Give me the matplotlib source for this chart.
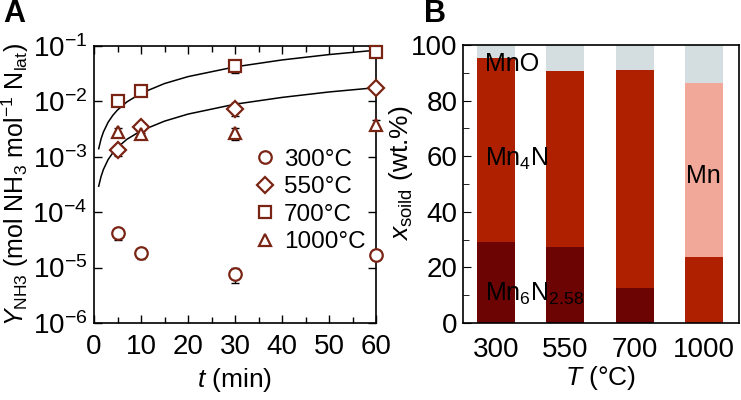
import matplotlib
matplotlib.use('Agg')
import matplotlib.pyplot as plt
from matplotlib.ticker import MultipleLocator, LogLocator, NullLocator
import numpy as np

plt.rcParams['font.family'] = ['Liberation Sans', 'DejaVu Sans']
plt.rcParams['mathtext.fontset'] = 'custom'
plt.rcParams['mathtext.rm'] = 'Liberation Sans'
plt.rcParams['mathtext.it'] = 'Liberation Sans:italic'
plt.rcParams['mathtext.bf'] = 'Liberation Sans:bold'
plt.rcParams['axes.linewidth'] = 1.2

# ---- panel A data: NH3 yield vs time
t_min = [5, 10, 30, 60]
y_300 = [4.2e-5, 1.85e-5, 7.6e-6, 1.7e-5]
y_550 = [1.3e-3, 3.4e-3, 7.4e-3, 1.75e-2]
y_700 = [1.02e-2, 1.55e-2, 4.4e-2, 7.9e-2]
y_1000 = [2.8e-3, 2.6e-3, 2.7e-3, 3.8e-3]
err_300 = [0.25, 0.22, 0.3, 0.2]      # relative errors
err_550 = [0.2, 0.2, 0.25, 0.15]
err_700 = [0.2, 0.2, 0.25, 0.1]
err_1000 = [0.2, 0.2, 0.25, 0.2]
labels_a = ['300\u00b0C', '550\u00b0C', '700\u00b0C', '1000\u00b0C']
markers_a = ['o', 'D', 's', '^']

# fit lines
fit_t = [1, 1.5, 2, 3, 4, 5, 7, 10, 15, 20, 30, 40, 50, 60]
fit_hi = [0.0014, 0.0021, 0.0028, 0.0042, 0.0056, 0.0070, 0.0098, 0.014,
          0.021, 0.028, 0.042, 0.056, 0.070, 0.084]
fit_lo = [0.000295, 0.00044, 0.00059, 0.00089, 0.00118, 0.00148, 0.00207,
          0.00295, 0.0044, 0.0059, 0.0089, 0.0118, 0.0148, 0.0177]

# ---- panel B data: solid composition (wt.%)
temps = ['300', '550', '700', '1000']
mn6n = [29.1, 27.4, 12.5, 0]
mn4n = [66.1, 63.1, 78.4, 23.6]
mn = [0, 0, 0, 62.6]
mno = [4.8, 9.5, 9.1, 13.8]

mk_col = '#7a2414'
c_mn6n = '#6b0403'
c_mn4n = '#ae2000'
c_mn = '#f2a898'
c_mno = '#d4dee0'

fig = plt.figure(figsize=(7.41, 4.0), dpi=100)
axA = fig.add_axes([94/741, 1-323/400, (376-94)/741, (323-46)/400])
axB = fig.add_axes([463/741, 1-323/400, (739-463)/741, (323-45)/400])

# panel A
axA.plot(fit_t, fit_hi, color='black', lw=1.1)
axA.plot(fit_t, fit_lo, color='black', lw=1.1)
for ys, es, m, lab in zip([y_300, y_550, y_700, y_1000],
                          [err_300, err_550, err_700, err_1000], markers_a, labels_a):
    ys = np.array(ys)
    es = np.array(es)
    axA.errorbar(t_min, ys, yerr=[ys*es, ys*es], fmt='none', ecolor='black',
                 elinewidth=1.0, capsize=3, clip_on=False, zorder=3)
    ms = 8 if m == 'D' else 9
    axA.plot(t_min, ys, m, mfc='white', mec=mk_col, mew=1.6, ms=ms,
             label=lab, clip_on=False, zorder=4)

axA.set_yscale('log')
axA.set_ylim(1e-6, 1e-1)
axA.set_xlim(0, 60)
axA.xaxis.set_major_locator(MultipleLocator(10))
axA.xaxis.set_minor_locator(MultipleLocator(5))
axA.yaxis.set_major_locator(LogLocator(base=10, numticks=10))
axA.yaxis.set_minor_locator(NullLocator())
axA.tick_params(which='both', direction='in', top=True, right=True, labelsize=20)
axA.tick_params(which='major', length=6, width=1.0)
axA.tick_params(which='minor', length=4, width=1.0)
axA.tick_params(axis='x', pad=8)
axA.tick_params(axis='y', pad=5)
axA.set_xlabel('$t$ (min)', fontsize=19, labelpad=4)
axA.set_ylabel('$Y_{\\mathrm{NH3}}$ (mol NH$_3$ mol$^{-1}$ N$_{\\mathrm{lat}}$)',
               fontsize=18, labelpad=1)
leg = axA.legend(loc='lower right', bbox_to_anchor=(1.015, 0.20), frameon=False,
                 fontsize=17.5, handlelength=0.8, handletextpad=0.4,
                 labelspacing=0.22, borderaxespad=0.2)

# panel B
x = np.arange(len(temps))
w = 0.55
axB.bar(x, mn6n, w, color=c_mn6n)
axB.bar(x, mn4n, w, bottom=mn6n, color=c_mn4n)
b2 = np.array(mn6n) + np.array(mn4n)
axB.bar(x, mn, w, bottom=b2, color=c_mn)
b3 = b2 + np.array(mn)
axB.bar(x, mno, w, bottom=b3, color=c_mno)

axB.text(-0.16, 93.2, 'MnO', fontsize=18, va='center', ha='left')
axB.text(-0.16, 59.2, 'Mn$_4$N', fontsize=18, va='center', ha='left')
axB.text(-0.16, 10.5, 'Mn$_6$N$_{2.58}$', fontsize=18, va='center', ha='left')
axB.text(3.0, 53.0, 'Mn', fontsize=18, va='center', ha='center')

axB.set_xlim(-0.48, 3.51)
axB.set_ylim(0, 100)
axB.set_xticks(x)
axB.set_xticklabels(temps)
axB.yaxis.set_major_locator(MultipleLocator(20))
axB.yaxis.set_minor_locator(MultipleLocator(10))
axB.tick_params(axis='y', which='both', direction='in', labelsize=20, pad=4)
axB.tick_params(axis='y', which='major', length=6)
axB.tick_params(axis='y', which='minor', length=4)
axB.tick_params(axis='x', length=0, labelsize=20, pad=10)
axB.set_xlabel('$T$ (\u00b0C)', fontsize=19, labelpad=1)
axB.set_ylabel('$x_{\\mathrm{soild}}$ (wt.%)', fontsize=19)
axB.yaxis.set_label_coords(-0.175, 0.54)

fig.text(3/741, 1-14/400, 'A', fontsize=22, fontweight='bold', va='center')
fig.text(424/741, 1-14/400, 'B', fontsize=22, fontweight='bold', va='center')

fig.savefig('out.png', dpi=100)
